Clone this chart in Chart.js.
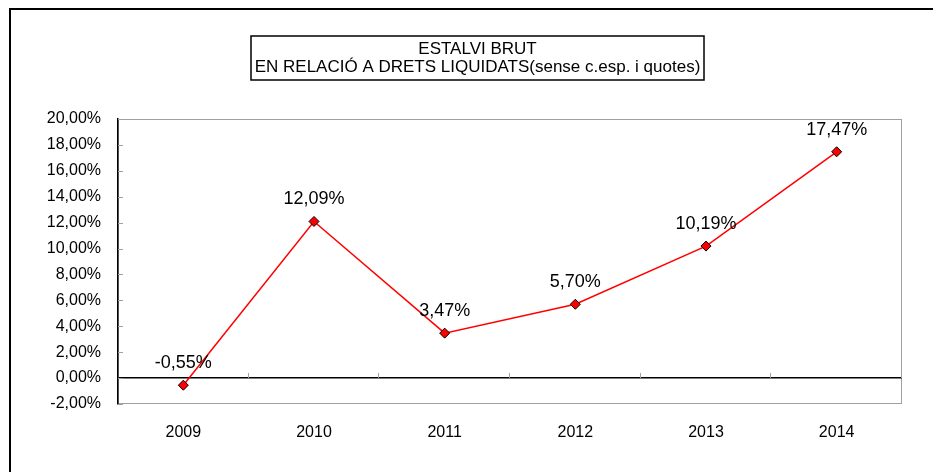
<!DOCTYPE html>
<html>
<head>
<meta charset="utf-8">
<script src="https://cdn.jsdelivr.net/npm/chart.js@4"></script>
<style>
  html, body { margin: 0; padding: 0; background: #fff; }
  canvas { display: block; }
</style>
</head>
<body>
<canvas id="chart" width="933" height="472"></canvas>
<script>
// dades
const years = ["2009", "2010", "2011", "2012", "2013", "2014"];
const savingsPct = [-0.55, 12.09, 3.47, 5.70, 10.19, 17.47];
const titleLines = ["ESTALVI BRUT", "EN RELACIÓ A DRETS LIQUIDATS(sense c.esp. i quotes)"];

const FONT = "'Liberation Sans', Arial, sans-serif";
const fmt = v => v.toFixed(2).replace('.', ',') + '%';

// marc, caixa del títol, vores i marques
const decor = {
  id: 'decor',
  beforeDraw(chart) {
    const { ctx, chartArea: a } = chart;
    ctx.save();
    ctx.fillStyle = '#fff';
    ctx.fillRect(0, 0, chart.width, chart.height);
    // marc exterior (només dalt i esquerra visibles)
    ctx.strokeStyle = '#000';
    ctx.lineWidth = 2;
    ctx.beginPath();
    ctx.moveTo(10, chart.height);
    ctx.lineTo(10, 9);
    ctx.lineTo(chart.width, 9);
    ctx.stroke();
    // caixa del títol
    ctx.lineWidth = 1.5;
    ctx.strokeRect(251, 36, 453, 44);
    ctx.fillStyle = '#000';
    ctx.font = '17px ' + FONT;
    ctx.textAlign = 'center';
    ctx.textBaseline = 'middle';
    ctx.fillText(titleLines[0], 477.5, 49);
    ctx.fillText(titleLines[1], 477.5, 67);
    // vora gris de l'àrea
    ctx.strokeStyle = '#a0a0a0';
    ctx.lineWidth = 1;
    ctx.strokeRect(a.left + 0.5, a.top + 0.5, a.width - 1, a.height - 1);
    ctx.restore();
  },
  afterDraw(chart) {
    const { ctx, chartArea: a, scales } = chart;
    const y0 = scales.y.getPixelForValue(0);
    ctx.save();
    ctx.strokeStyle = '#a0a0a0';
    ctx.lineWidth = 1;
    ctx.beginPath();
    scales.y.ticks.forEach(t => {
      const py = Math.round(scales.y.getPixelForValue(t.value)) + 0.5;
      ctx.moveTo(a.left, py);
      ctx.lineTo(a.left + 5, py);
    });
    const step = a.width / years.length;
    for (let i = 1; i <= years.length; i++) {
      const px = Math.round(a.left + step * i) - 0.5;
      ctx.moveTo(px, y0);
      ctx.lineTo(px, y0 - 5);
    }
    ctx.stroke();
    // etiquetes de dades
    const meta = chart.getDatasetMeta(0);
    ctx.fillStyle = '#000';
    ctx.font = '18px ' + FONT;
    ctx.textAlign = 'center';
    ctx.textBaseline = 'middle';
    meta.data.forEach((pt, i) => {
      ctx.fillText(fmt(savingsPct[i]), pt.x, pt.y - 22);
    });
    ctx.restore();
  }
};

new Chart(document.getElementById('chart'), {
  type: 'line',
  data: {
    labels: years,
    datasets: [{
      data: savingsPct,
      borderColor: '#ff0000',
      borderWidth: 1.5,
      tension: 0,
      pointStyle: 'rectRot',
      pointRadius: 5,
      pointHoverRadius: 5,
      pointBackgroundColor: '#ff0000',
      pointBorderColor: '#000',
      pointBorderWidth: 1
    }]
  },
  options: {
    responsive: false,
    animation: false,
    events: [],
    layout: { padding: { left: 18, top: 119, right: 31, bottom: 8 } },
    plugins: { legend: { display: false }, tooltip: { enabled: false } },
    scales: {
      x: {
        offset: true,
        grid: { display: false },
        border: { display: false },
        ticks: { color: '#000', font: { family: FONT, size: 16 }, padding: 11, maxRotation: 0 },
        afterFit(s) { s.height = 60; }
      },
      y: {
        min: -2,
        max: 20,
        grid: {
          drawTicks: false,
          color: c => c.tick && c.tick.value === 0 ? '#000' : 'transparent',
          lineWidth: 1.5
        },
        border: { display: true, color: '#000', width: 1.5 },
        ticks: {
          stepSize: 2,
          color: '#000',
          padding: 17,
          font: { family: FONT, size: 16 },
          callback: v => fmt(v)
        },
        afterFit(s) { s.width = 100; }
      }
    }
  },
  plugins: [decor]
});
</script>
</body>
</html>
